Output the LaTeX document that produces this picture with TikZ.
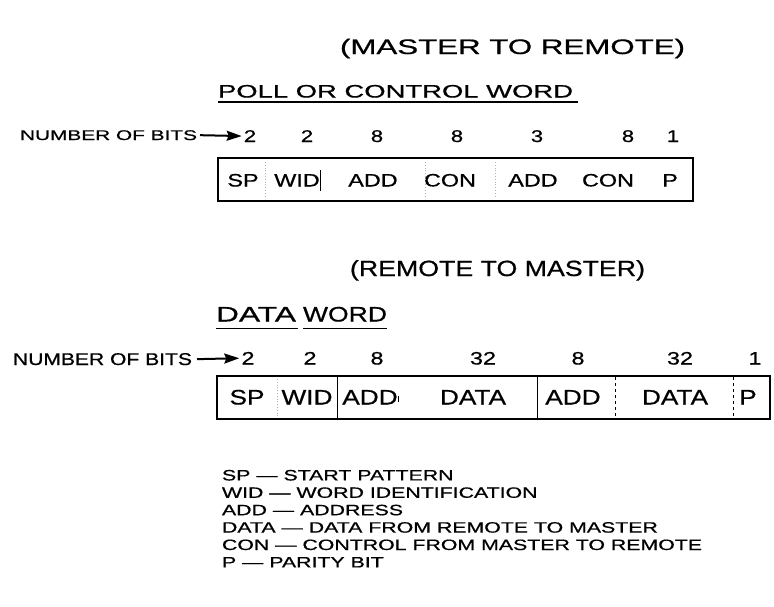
\documentclass[tikz,border=0pt]{standalone}
\usepackage{fontspec}
\setmainfont{Liberation Sans}[FakeBold=0.6]
\usetikzlibrary{arrows.meta,calc}
\newcommand{\wtxt}[3]{\resizebox{#1pt}{\height}{\fontsize{#2}{#2}\selectfont #3}}
\newcommand{\stxt}[3]{{\fontsize{#1}{#1}\selectfont\scalebox{#2}[1]{#3}}}
\begin{document}
\begin{tikzpicture}[x=1pt,y=-1pt,
  txt/.style={inner sep=0pt,outer sep=0pt,anchor=base west},
  num/.style={inner sep=0pt,anchor=base},
  lbl/.style={inner sep=0pt,anchor=base},
  wordbox/.style={draw,line width=2.3pt,inner sep=0pt,rectangle},
  uline/.style={line width=1.7pt},
  bitarrow/.style={line width=2pt,-{Stealth[length=15pt,width=10pt,inset=2pt]}},
  div/.style={line width=0.9pt},
  faint/.style={line width=0.8pt,gray!60,dotted}]
\useasboundingbox (0,0) rectangle (774,606);

% ---------------- top: master to remote
\node[txt] (t1) at (340,54) {\wtxt{345}{21}{(MASTER TO REMOTE)}};
\node[txt] (poll) at (218,97.5) {\wtxt{355}{18}{POLL OR CONTROL WORD}};
\draw[uline] ($(poll.base west)+(0,4.5)$) -- ($(poll.base east)+(5,4.5)$);
\node[txt] (nobA) at (20,140) {\wtxt{177}{14}{NUMBER OF BITS}};
\foreach \x/\v [count=\i] in {250/2,307/2,377/8,457/8,537/3,628/8,673/1}
  \node[num] (a\i) at (\x,142) {\stxt{17}{1.3}{\v}};
\draw[bitarrow] ($(nobA.east)+(3,0)$) -- ($(a1.west)+(-2,0)$);
\node[wordbox,minimum width=475pt,minimum height=43pt] (box1) at (455.5,179.5) {};
\foreach \x/\v [count=\i] in {243/SP,297/WID,373/ADD,450/CON,533/ADD,608/CON,670/P}
  \node[lbl] (b\i) at (\x,186.5) {\stxt{18}{1.3}{\v}};
\foreach \x in {265,425,495}
  \draw[faint] (\x,162) -- (\x,197);
\draw[div] (320,170) -- (320,191);

% ---------------- bottom: remote to master
\node[txt] (t2) at (350,276) {\wtxt{295}{22}{(REMOTE TO MASTER)}};
\node[txt] (dw1) at (216,321.5) {\wtxt{80}{21}{DATA}};
\node[txt] (dw2) at (303,321.5) {\wtxt{84}{21}{WORD}};
\draw[uline] ($(dw1.base west)+(0,7)$) -- ($(dw1.base east)+(2,7)$);
\draw[uline] ($(dw2.base west)+(0,7)$) -- ($(dw2.base east)+(0,7)$);
\node[txt] (nobB) at (13,365) {\wtxt{179}{17}{NUMBER OF BITS}};
\foreach \x/\v [count=\i] in {248/2,310/2,377/8,483/32,578/8,680/32,755/1}
  \node[num] (c\i) at (\x,364.5) {\stxt{18}{1.3}{\v}};
\draw[bitarrow] ($(nobB.east)+(5,0)$) -- ($(c1.west)+(-2,0)$);
\node[wordbox,minimum width=553pt,minimum height=43pt] (box2) at (493.5,397.5) {};
\foreach \x/\v [count=\i] in {247/SP,307/WID,370/ADD,473/DATA,573/ADD,675/DATA,748/P}
  \node[lbl] (d\i) at (\x,404.5) {\stxt{21}{1.25}{\v}};
\draw[faint] (277,379) -- (277,416);
\draw[div] (337,377) -- (337,418);
\draw[div] (398,396) -- (398,402);
\draw[div] (537,377) -- (537,418);
\draw[div,dashed] (615,377) -- (615,418);
\draw[div,dashed] (733,377) -- (733,418);

% ---------------- legend
\foreach \t [count=\i] in {SP --- START PATTERN,
  WID --- WORD IDENTIFICATION,
  ADD --- ADDRESS,
  DATA --- DATA FROM REMOTE TO MASTER,
  CON --- CONTROL FROM MASTER TO REMOTE,
  P --- PARITY BIT}
  \node[txt] (leg\i) at (222,{480.4+17.4*(\i-1)}) {\stxt{15}{1.42}{\t}};
\end{tikzpicture}
\end{document}
